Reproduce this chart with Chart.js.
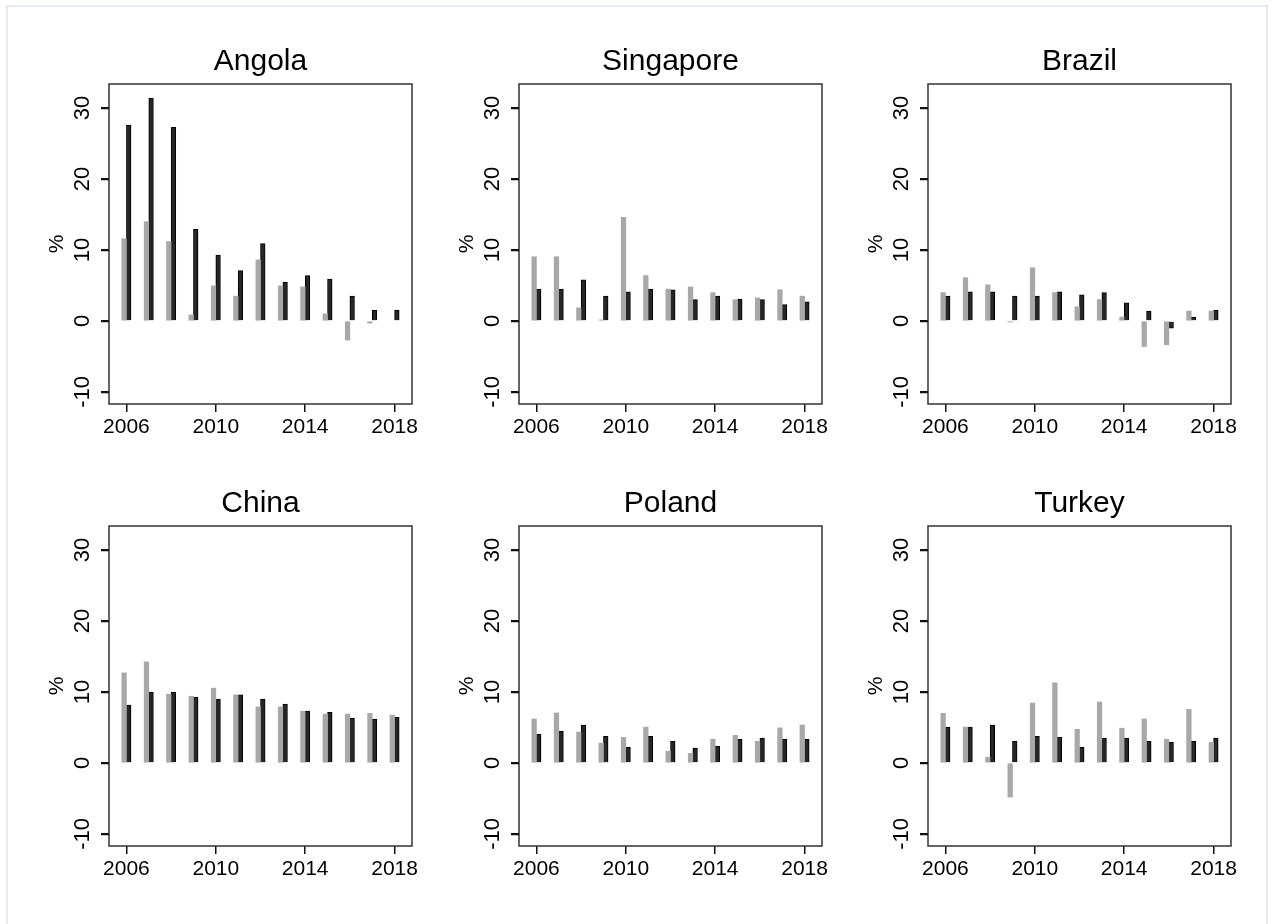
<!DOCTYPE html>
<html>
<head>
<meta charset="utf-8">
<script src="https://cdn.jsdelivr.net/npm/chart.js@4.4.1/dist/chart.umd.min.js"></script>
<style>
  html, body { margin: 0; padding: 0; background: #ffffff; }
  body { width: 1275px; height: 924px; position: relative; overflow: hidden; font-family: "Liberation Sans", Arial, sans-serif; }
  #frame { position: absolute; left: 6px; top: 5px; width: 1262px; height: 940px; border: 2px solid #e4ecf2; box-sizing: border-box; }
  canvas { position: absolute; }
</style>
</head>
<body>
<div id="frame"></div>
<canvas id="c0" width="395" height="412" style="left:39px;top:44px"></canvas>
<canvas id="c1" width="395" height="412" style="left:449px;top:44px"></canvas>
<canvas id="c2" width="395" height="412" style="left:858px;top:44px"></canvas>
<canvas id="c3" width="395" height="412" style="left:39px;top:486px"></canvas>
<canvas id="c4" width="395" height="412" style="left:449px;top:486px"></canvas>
<canvas id="c5" width="395" height="412" style="left:858px;top:486px"></canvas>
<script>
// ---- data ----
const years = [2006, 2007, 2008, 2009, 2010, 2011, 2012, 2013, 2014, 2015, 2016, 2017, 2018];
const xTicks = [2006, 2010, 2014, 2018];
const yTicks = [-10, 0, 10, 20, 30];
const countries = ["Angola", "Singapore", "Brazil", "China", "Poland", "Turkey"];

const angolaGray  = [11.6, 14.0, 11.2, 0.85, 4.95, 3.5, 8.6, 4.95, 4.8, 1.0, -2.7, -0.3, null];
const angolaBlack = [27.6, 31.4, 27.3, 12.9, 9.3, 7.1, 10.9, 5.5, 6.4, 5.9, 3.5, 1.55, 1.55];

const singaporeGray  = [9.05, 9.05, 1.85, 0.15, 14.6, 6.4, 4.5, 4.8, 4.0, 3.0, 3.25, 4.4, 3.5];
const singaporeBlack = [4.5, 4.5, 5.8, 3.5, 4.1, 4.5, 4.4, 3.0, 3.5, 3.1, 3.0, 2.3, 2.7];

const brazilGray  = [4.0, 6.1, 5.1, -0.15, 7.5, 4.0, 2.0, 3.0, 0.55, -3.6, -3.35, 1.4, 1.4];
const brazilBlack = [3.5, 4.1, 4.1, 3.5, 3.5, 4.1, 3.7, 4.0, 2.55, 1.4, -1.0, 0.55, 1.55];

const chinaGray  = [12.7, 14.25, 9.7, 9.4, 10.55, 9.6, 7.9, 7.9, 7.3, 6.9, 6.9, 7.0, 6.75];
const chinaBlack = [8.15, 10.0, 10.0, 9.3, 9.0, 9.6, 9.0, 8.3, 7.3, 7.15, 6.3, 6.2, 6.45];

const polandGray  = [6.2, 7.05, 4.35, 2.8, 3.6, 5.05, 1.65, 1.35, 3.35, 3.9, 3.05, 4.95, 5.35];
const polandBlack = [4.05, 4.5, 5.35, 3.75, 2.2, 3.75, 3.05, 2.1, 2.35, 3.35, 3.5, 3.35, 3.35];

const turkeyGray  = [7.0, 5.05, 0.8, -4.8, 8.45, 11.3, 4.75, 8.6, 4.9, 6.2, 3.35, 7.55, 2.9];
const turkeyBlack = [5.05, 5.05, 5.35, 3.05, 3.75, 3.6, 2.2, 3.5, 3.5, 3.05, 2.9, 3.05, 3.5];

const grayValues  = [angolaGray, singaporeGray, brazilGray, chinaGray, polandGray, turkeyGray];
const blackValues = [angolaBlack, singaporeBlack, brazilBlack, chinaBlack, polandBlack, turkeyBlack];

// ---- styling / layout ----
const FONT = '"Liberation Sans", Arial, Helvetica, sans-serif';
const framePlugin = {
  id: 'frameBox',
  afterDraw(chart) {
    const a = chart.chartArea, ctx = chart.ctx, ys = chart.scales.y;
    ctx.save();
    ctx.strokeStyle = '#333333';
    ctx.lineWidth = 1.5;
    ctx.strokeRect(a.left, a.top, a.right - a.left, a.bottom - a.top);
    // y-axis tick marks taken from the y scale
    ctx.strokeStyle = '#111111';
    ys.ticks.forEach(t => {
      const py = Math.round(ys.getPixelForValue(t.value)) + 0.5;
      ctx.beginPath();
      ctx.moveTo(a.left - 8, py);
      ctx.lineTo(a.left, py);
      ctx.stroke();
    });
    ctx.restore();
  }
};

countries.forEach((name, i) => {
  new Chart(document.getElementById('c' + i), {
    type: 'bar',
    data: {
      labels: years,
      datasets: [
        { label: name + ' (grey)', data: grayValues[i], backgroundColor: '#a8a8a8', borderWidth: 0, barThickness: 4.6 },
        { label: name + ' (black)', data: blackValues[i], backgroundColor: '#262626', borderColor: '#000000', borderWidth: 1, barThickness: 4.6 }
      ]
    },
    options: {
      responsive: false,
      animation: false,
      devicePixelRatio: 1,
      layout: { padding: { left: 0, right: 22, top: 0, bottom: 0 } },
      plugins: {
        legend: { display: false },
        tooltip: { enabled: false },
        title: {
          display: true, fullSize: false, text: name, color: '#000000',
          font: { family: FONT, size: 30, weight: 'normal', lineHeight: 1.2 },
          padding: { top: 0, bottom: 4 }
        }
      },
      scales: {
        x: {
          type: 'linear', offset: false,
          min: 2005.22, max: 2018.78,
          afterBuildTicks: (ax) => { ax.ticks = xTicks.map(v => ({ value: v })); },
          afterFit: (ax) => { ax.height = 52; },
          grid: { offset: false, drawOnChartArea: false, drawTicks: true, tickLength: 8, color: '#111111', tickColor: '#111111', lineWidth: 1.5, tickWidth: 1.5 },
          border: { display: false },
          ticks: { color: '#000000', font: { family: FONT, size: 21 }, padding: 3, maxRotation: 0, minRotation: 0, callback: (v) => String(v) }
        },
        y: {
          type: 'linear', min: -11.7, max: 33.4,
          afterBuildTicks: (ax) => { ax.ticks = yTicks.map(v => ({ value: v })); },
          afterFit: (ax) => { ax.width = 70; },
          grid: { offset: false, drawOnChartArea: false, drawTicks: true, tickLength: 8, color: '#111111', tickColor: '#111111', lineWidth: 1.5, tickWidth: 1.5 },
          border: { display: false },
          title: { display: true, text: '%', color: '#000000', font: { family: FONT, size: 21 }, padding: { top: 6, bottom: 0 } },
          ticks: { color: '#000000', font: { family: FONT, size: 22 }, padding: 2, minRotation: 90, maxRotation: 90, crossAlign: 'center', callback: (v) => String(v) }
        }
      }
    },
    plugins: [framePlugin]
  });
});
</script>
</body>
</html>
